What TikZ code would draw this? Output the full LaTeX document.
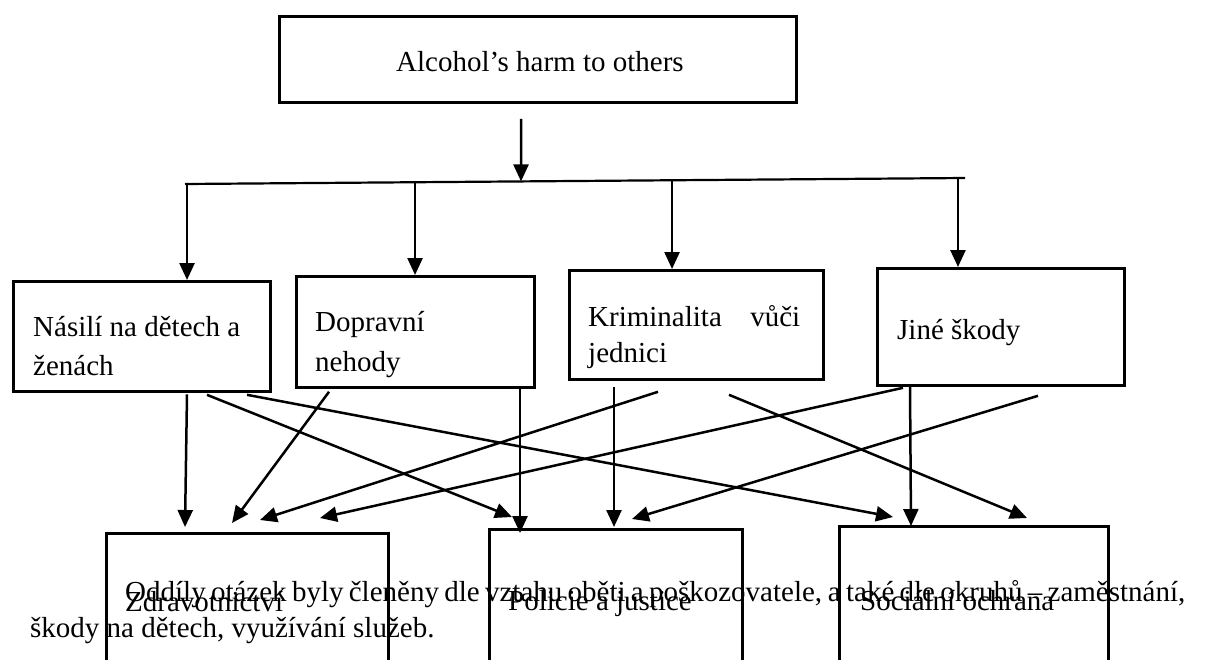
\documentclass[tikz,border=0pt]{standalone}
\usepackage{fontspec}
\setmainfont{Liberation Serif}
\usetikzlibrary{arrows.meta,calc}

\begin{document}
\begin{tikzpicture}[x=1pt,y=-1pt,
  box/.style={draw, line width=2.8pt, inner sep=0pt, anchor=north west},
  lbl/.style={anchor=base west, inner sep=0pt, font=\fontsize{29}{35}\selectfont},
  link/.style={line width=2.5pt, -{Triangle[length=17pt,width=15pt]}},
  busline/.style={line width=2.2pt},
]
\useasboundingbox (0,0) rectangle (1205,659);
\fill[white] (0,0) rectangle (1205,659);
\clip (0,0) rectangle (1205,659);

% boxes
\node[box, minimum width=517pt, minimum height=86pt] (top) at (278,15) {};
\node[box, minimum width=257pt, minimum height=110pt] (nas) at (12,280) {};
\node[box, minimum width=238pt, minimum height=111pt] (dop) at (295,275) {};
\node[box, minimum width=254pt, minimum height=109pt] (kri) at (568,269) {};
\node[box, minimum width=247pt, minimum height=117pt] (jin) at (876,267) {};
\node[box, minimum width=282pt, minimum height=160pt] (zdr) at (105,532) {};
\node[box, minimum width=253pt, minimum height=160pt] (pol) at (488,528) {};
\node[box, minimum width=269pt, minimum height=160pt] (soc) at (838,525) {};

% labels
\node[lbl] (tTop) at (396,71) {Alcohol’s harm to others};
\node[lbl] (tNas1) at (33,336) {Násilí na dětech a};
\node[lbl] (tNas2) at (33,375) {ženách};
\node[lbl] (tDop1) at (315,331) {Dopravní};
\node[lbl] (tDop2) at (315,371) {nehody};
\node[lbl] (tKri1) at (588,326) {\makebox[212pt][s]{Kriminalita vůči}};
\node[lbl] (tKri2) at (588,362) {jednici};
\node[lbl] (tJin) at (897,339) {Jiné škody};
\node[lbl] (tZdr) at (125,611) {Zdravotnictví};
\node[lbl] (tPol) at (508,610) {Policie a justice};
\node[lbl] (tSoc) at (860,610) {Sociální ochrana};

% distribution line
\coordinate (busL) at (185,184);
\coordinate (busR) at (965,178);
\draw[busline] (busL) -- (busR);
\draw[link] ([xshift=243pt,yshift=-15pt]top.south west) -- ($(busL)!0.4308!(busR)$);
\coordinate (d1) at ($(busL)!0.0026!(busR)$);
\coordinate (d2) at ($(busL)!0.2949!(busR)$);
\coordinate (d3) at ($(busL)!0.6244!(busR)$);
\coordinate (d4) at ($(busL)!0.9910!(busR)$);
\draw[link] (d1) -- (d1 |- nas.north);
\draw[link] (d2) -- (d2 |- dop.north);
\draw[link] (d3) -- (d3 |- kri.north);
\draw[link] (d4) -- (d4 |- jin.north);

% harms to services
\draw[link] ([xshift=175pt,yshift=-1.5pt]nas.south west) -- ([xshift=80pt,yshift=5pt]zdr.north west);
\draw[link] ([xshift=195pt,yshift=-2pt]nas.south west) -- ([xshift=24pt,yshift=11pt]pol.north west);
\draw[link] ([xshift=235pt,yshift=-2pt]nas.south west) -- ([xshift=55pt,yshift=8pt]soc.north west);
\draw[link] ([xshift=34pt,yshift=-3pt]dop.south west) -- ([xshift=127pt,yshift=9pt]zdr.north west);
\draw[link] ([xshift=225pt]dop.south west) -- ([xshift=32pt,yshift=-5pt]pol.north west);
\draw[link] ([xshift=90pt,yshift=-11pt]kri.south west) -- ([xshift=155pt,yshift=12pt]zdr.north west);
\draw[link] ([xshift=46pt,yshift=-6pt]kri.south west) -- ([xshift=126pt,yshift=1pt]pol.north west);
\draw[link] ([xshift=161pt,yshift=-14pt]kri.south west) -- ([xshift=189pt,yshift=7pt]soc.north west);
\draw[link] ([xshift=27pt,yshift=-1pt]jin.south west) -- ([xshift=215pt,yshift=14pt]zdr.north west);
\draw[link] ([xshift=162pt,yshift=-9pt]jin.south west) -- ([xshift=144pt,yshift=9pt]pol.north west);
\draw[link] ([xshift=34pt,yshift=1pt]jin.south west) -- ([xshift=73pt,yshift=-1pt]soc.north west);

% paragraph text running across the lower boxes
\node[lbl] (para1) at (125,601) {\makebox[1060pt][s]{Oddíly otázek byly členěny dle vztahu oběti a poškozovatele, a také dle okruhů – zaměstnání,}};
\node[lbl] (para2) at (30,637) {škody na dětech, využívání služeb.};
\end{tikzpicture}
\end{document}
